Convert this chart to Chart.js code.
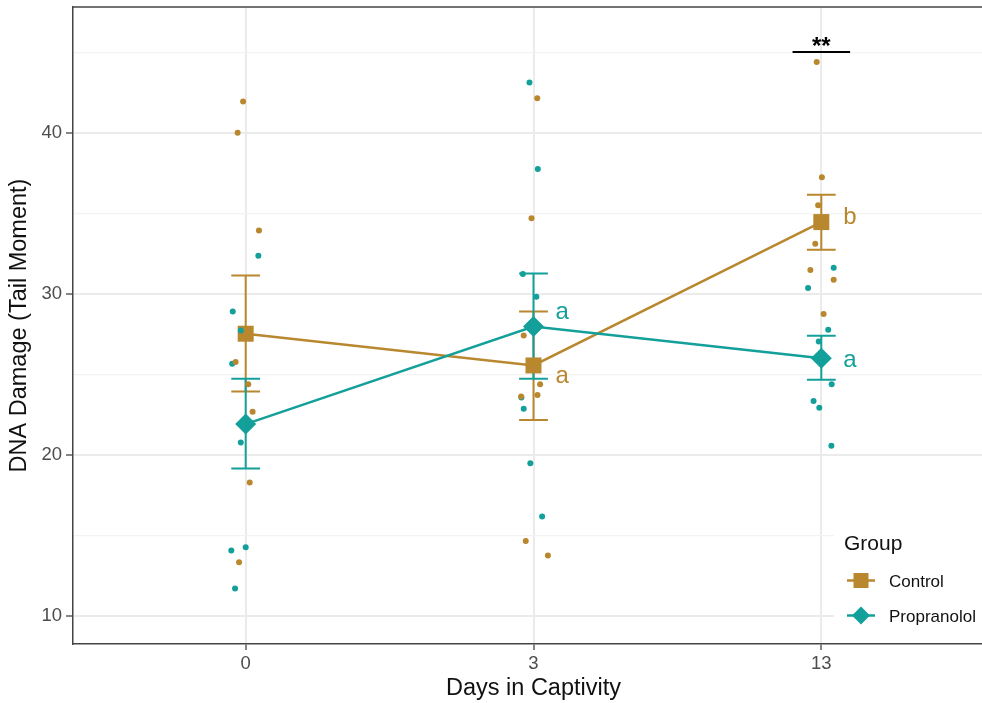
<!DOCTYPE html>
<html>
<head>
<meta charset="utf-8">
<script src="https://cdn.jsdelivr.net/npm/chart.js@4/dist/chart.umd.min.js"></script>
<style>
    html, body { margin: 0; padding: 0; background: #fff; overflow: hidden; }
    /* khung vẽ rộng hơn cửa sổ một chút: cạnh phải của panel bị cắt như ảnh gốc */
    #wrap { position: relative; width: 994px; height: 703px; }
</style>
</head>
<body>
<div id="wrap"><canvas id="dnaChart"></canvas></div>
<script>
// Ngày nuôi nhốt (trục x)
const days = ['0', '3', '13'];

// Trung bình và thanh sai số cho từng nhóm
const controlMean = [27.52, 25.55, 34.45];
const controlLow = [23.93, 22.17, 32.73];
const controlHigh = [31.14, 28.90, 36.15];
const propMean = [21.91, 27.97, 26.00];
const propLow = [19.15, 24.72, 24.66];
const propHigh = [24.72, 31.26, 27.39];

// Điểm dữ liệu thô (chỉ số ngày, độ lệch jitter, giá trị)
const controlDay = [0, 0, 0, 0, 0, 0, 0, 0, 1, 1, 1, 1, 1, 1, 1, 1, 2, 2, 2, 2, 2, 2, 2];
const controlJitter = [-0.009, -0.028, 0.046, -0.035, 0.009, 0.024, 0.014, -0.023,
    0.013, -0.007, -0.034, 0.023, -0.043, 0.014, -0.027, 0.050,
    -0.016, 0.002, -0.011, -0.021, -0.038, 0.043, 0.008];
const controlValue = [41.94, 40.00, 33.93, 25.76, 24.39, 22.67, 18.28, 13.33,
    42.13, 34.68, 27.41, 24.39, 23.62, 23.71, 14.66, 13.75,
    44.39, 37.23, 35.49, 33.11, 31.47, 30.87, 28.74];

const propDay = [0, 0, 0, 0, 0, 0, 0, 0, 1, 1, 1, 1, 1, 1, 1, 1, 2, 2, 2, 2, 2, 2, 2, 2];
const propJitter = [0.044, -0.045, -0.017, -0.047, -0.017, -0.050, 0.000, -0.037,
    -0.014, 0.015, -0.037, 0.010, -0.042, -0.034, -0.011, 0.030,
    0.043, -0.046, 0.024, -0.009, 0.036, -0.027, -0.007, 0.035];
const propValue = [32.36, 28.90, 27.72, 25.65, 20.77, 14.06, 14.27, 11.70,
    43.11, 37.74, 31.22, 29.81, 23.56, 22.86, 19.48, 16.17,
    31.61, 30.35, 27.76, 27.04, 24.39, 23.35, 22.92, 20.56];

// Chữ cái so sánh và dấu sao ý nghĩa
const letterDay = [1, 1, 2, 2];
const letterText = ['a', 'a', 'b', 'a'];
const letterY = [28.45, 24.45, 34.30, 25.45];
const letterGroup = ['prop', 'control', 'control', 'prop'];
const sigDay = 2;
const sigY = 45;
const sigText = '**';

// Vạch chia trục y
const yTicks = [10, 15, 20, 25, 30, 35, 40, 45];

const GOLD = '#B8872E';
const TEAL = '#13A09A';
const FONT = "'Liberation Sans', Arial, sans-serif";

function rawPoints(dayIdx, jitter, values) {
    return values.map((v, i) => ({ x: dayIdx[i] + jitter[i], y: v }));
}
function meanPoints(means) {
    return means.map((v, i) => ({ x: i, y: v }));
}

// Vẽ thanh sai số
const errorBarPlugin = {
    id: 'errorBars',
    beforeDatasetsDraw(chart) {
        const { ctx, scales: { x, y } } = chart;
        const groups = [[controlLow, controlHigh, GOLD], [propLow, propHigh, TEAL]];
        ctx.save();
        ctx.lineWidth = 2;
        groups.forEach(([lo, hi, col]) => {
            ctx.strokeStyle = col;
            lo.forEach((l, i) => {
                const px = x.getPixelForValue(i);
                const xl = x.getPixelForValue(i - 0.05);
                const xr = x.getPixelForValue(i + 0.05);
                const y1 = y.getPixelForValue(l);
                const y2 = y.getPixelForValue(hi[i]);
                ctx.beginPath();
                ctx.moveTo(px, y1); ctx.lineTo(px, y2);
                ctx.moveTo(xl, y1); ctx.lineTo(xr, y1);
                ctx.moveTo(xl, y2); ctx.lineTo(xr, y2);
                ctx.stroke();
            });
        });
        ctx.restore();
    }
};

// Chữ cái, dấu sao và viền trên của khung
const annotationPlugin = {
    id: 'annotations',
    afterDatasetsDraw(chart) {
        const { ctx, chartArea, scales: { x, y } } = chart;
        ctx.save();
        ctx.font = `24px ${FONT}`;
        ctx.textAlign = 'left';
        ctx.textBaseline = 'alphabetic';
        letterText.forEach((t, i) => {
            ctx.fillStyle = letterGroup[i] === 'prop' ? TEAL : GOLD;
            ctx.fillText(t, x.getPixelForValue(letterDay[i]) + 22, y.getPixelForValue(letterY[i]));
        });

        const sy = y.getPixelForValue(sigY);
        ctx.strokeStyle = '#000';
        ctx.lineWidth = 2;
        ctx.beginPath();
        ctx.moveTo(x.getPixelForValue(sigDay - 0.1), sy);
        ctx.lineTo(x.getPixelForValue(sigDay + 0.1), sy);
        ctx.stroke();
        ctx.fillStyle = '#000';
        ctx.font = `bold 24px ${FONT}`;
        ctx.textAlign = 'center';
        ctx.fillText(sigText, x.getPixelForValue(sigDay), sy + 2);

        ctx.strokeStyle = '#444';
        ctx.lineWidth = 1.5;
        ctx.beginPath();
        ctx.moveTo(chartArea.left, chartArea.top);
        ctx.lineTo(chartArea.right, chartArea.top);
        ctx.stroke();
        ctx.restore();
    }
};

// Chú thích đặt trong khung, góc dưới phải
const legendPlugin = {
    id: 'groupLegend',
    afterDraw(chart) {
        const ctx = chart.ctx;
        ctx.save();
        ctx.fillStyle = '#fff';
        ctx.fillRect(834, 522, 160, 120);
        ctx.fillStyle = '#111';
        ctx.textAlign = 'left';
        ctx.textBaseline = 'alphabetic';
        ctx.font = `21px ${FONT}`;
        ctx.fillText('Group', 844, 550);

        const items = [
            { label: 'Control', color: GOLD, shape: 'rect', cy: 580.5 },
            { label: 'Propranolol', color: TEAL, shape: 'diamond', cy: 615.5 }
        ];
        ctx.font = `17px ${FONT}`;
        items.forEach(it => {
            ctx.strokeStyle = it.color;
            ctx.fillStyle = it.color;
            ctx.lineWidth = 2.5;
            ctx.beginPath();
            ctx.moveTo(847, it.cy);
            ctx.lineTo(875, it.cy);
            ctx.stroke();
            ctx.beginPath();
            if (it.shape === 'rect') {
                ctx.rect(861 - 7.5, it.cy - 7.5, 15, 15);
            } else {
                ctx.moveTo(861, it.cy - 9);
                ctx.lineTo(870, it.cy);
                ctx.lineTo(861, it.cy + 9);
                ctx.lineTo(852, it.cy);
                ctx.closePath();
            }
            ctx.fill();
            ctx.fillStyle = '#111';
            ctx.fillText(it.label, 889, it.cy + 6);
        });
        ctx.restore();
    }
};

const chartData = {
    datasets: [
        {
            type: 'scatter',
            label: 'Control raw',
            data: rawPoints(controlDay, controlJitter, controlValue),
            backgroundColor: GOLD,
            borderColor: GOLD,
            pointRadius: 3,
            pointBorderWidth: 0,
            order: 0
        },
        {
            type: 'scatter',
            label: 'Propranolol raw',
            data: rawPoints(propDay, propJitter, propValue),
            backgroundColor: TEAL,
            borderColor: TEAL,
            pointRadius: 3,
            pointBorderWidth: 0,
            order: 0
        },
        {
            type: 'line',
            label: 'Propranolol',
            data: meanPoints(propMean),
            borderColor: TEAL,
            backgroundColor: TEAL,
            borderWidth: 2.5,
            pointStyle: 'rectRot',
            pointRadius: 10.5,
            pointBorderWidth: 0,
            tension: 0,
            order: 1
        },
        {
            type: 'line',
            label: 'Control',
            data: meanPoints(controlMean),
            borderColor: GOLD,
            backgroundColor: GOLD,
            borderWidth: 2.5,
            pointStyle: 'rect',
            pointRadius: 11.3,
            pointBorderWidth: 0,
            tension: 0,
            order: 2
        }
    ]
};

const config = {
    type: 'scatter',
    data: chartData,
    options: {
        responsive: true,
        maintainAspectRatio: false,
        animation: false,
        layout: {
            autoPadding: false,
            padding: { top: 7, right: 0, bottom: 0, left: 0 }
        },
        plugins: {
            legend: { display: false },
            tooltip: { enabled: false }
        },
        scales: {
            x: {
                type: 'linear',
                min: -0.6,
                max: 2.6,
                afterBuildTicks: scale => { scale.ticks = days.map((d, i) => ({ value: i })); },
                afterFit: scale => {
                    scale.height = 59;
                    scale.paddingLeft = 0;
                    scale.paddingRight = 0;
                },
                ticks: {
                    callback: v => days[v],
                    color: '#4D4D4D',
                    font: { family: FONT, size: 18.5 },
                    padding: 3,
                    maxRotation: 0
                },
                grid: {
                    color: '#EBEBEB',
                    lineWidth: 2,
                    tickColor: '#444',
                    tickWidth: 1.3,
                    tickLength: 6
                },
                border: { color: '#444', width: 1.5 },
                title: {
                    display: true,
                    text: 'Days in Captivity',
                    color: '#111',
                    font: { family: FONT, size: 23.5 },
                    padding: { top: 0, bottom: 0 }
                }
            },
            y: {
                type: 'linear',
                min: 8.26,
                max: 47.8,
                afterBuildTicks: scale => { scale.ticks = yTicks.map(v => ({ value: v })); },
                afterFit: scale => {
                    scale.width = 73;
                    scale.paddingTop = 0;
                    scale.paddingBottom = 0;
                },
                ticks: {
                    autoSkip: false,
                    callback: v => (v % 10 === 0 ? String(v) : ''),
                    color: '#4D4D4D',
                    font: { family: FONT, size: 18.5 },
                    padding: 4
                },
                grid: {
                    color: ctx => (ctx.tick && ctx.tick.value % 10 === 0 ? '#EBEBEB' : '#F3F3F3'),
                    lineWidth: ctx => (ctx.tick && ctx.tick.value % 10 === 0 ? 2 : 1.2),
                    tickColor: ctx => (ctx.tick && ctx.tick.value % 10 === 0 ? '#444' : 'rgba(0,0,0,0)'),
                    tickWidth: 1.3,
                    tickLength: 7
                },
                border: { color: '#444', width: 1.5 },
                title: {
                    display: true,
                    text: 'DNA Damage (Tail Moment)',
                    color: '#111',
                    font: { family: FONT, size: 23.5 },
                    padding: { top: 5, bottom: 0 }
                }
            }
        }
    },
    plugins: [errorBarPlugin, annotationPlugin, legendPlugin]
};

new Chart(document.getElementById('dnaChart').getContext('2d'), config);
</script>
</body>
</html>
